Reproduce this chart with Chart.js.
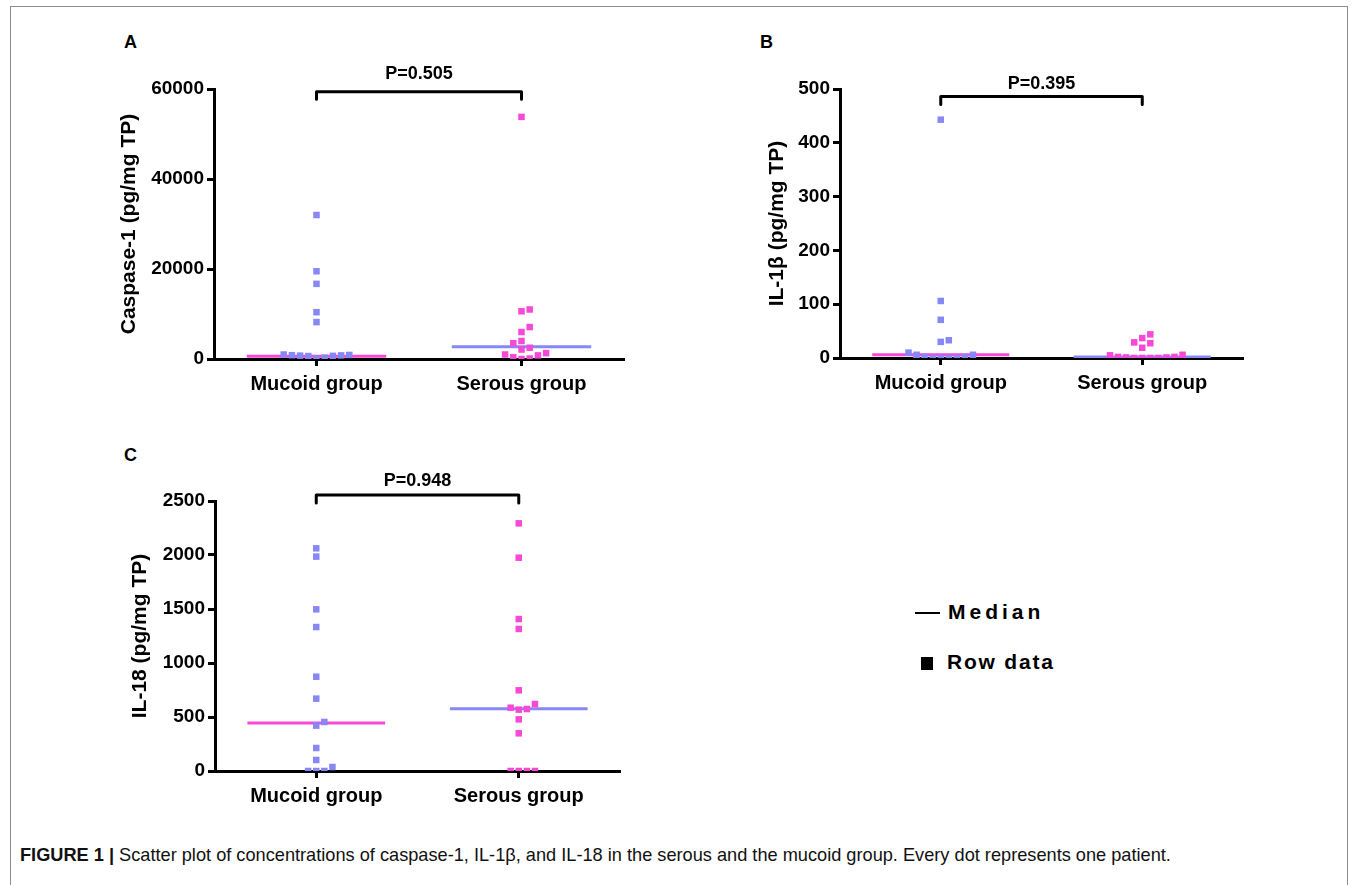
<!DOCTYPE html>
<html>
<head>
<meta charset="utf-8">
<script src="https://cdn.jsdelivr.net/npm/chart.js@4.4.0/dist/chart.umd.min.js"></script>
<style>
  body { margin: 0; width: 1357px; height: 885px; background: #fff; position: relative; overflow: hidden;
         font-family: Arial, "Liberation Sans", sans-serif; color: #000; }
  .frame { position: absolute; left: 10px; top: 6px; width: 1336px; height: 900px; border: 1px solid #8c8c8c; }
  canvas { position: absolute; }
  .tag { position: absolute; font-weight: bold; font-size: 18px; line-height: 20px; }
  .legend { position: absolute; font-weight: bold; font-size: 21px; line-height: 24px; white-space: nowrap; }
  .legend .dash { display: inline-block; width: 25px; height: 2px; background: #000; vertical-align: middle; margin-right: 8px; }
  .legend .box { display: inline-block; width: 12px; height: 13px; background: #000; vertical-align: middle; margin-right: 14px; }
  .caption { position: absolute; left: 20px; top: 844px; font-size: 18.2px; line-height: 22px; white-space: nowrap;
             font-family: Arial, "Liberation Sans", sans-serif; color: #111; }
</style>
</head>
<body>
<div class="frame"></div>
<div class="tag" style="left:124px; top:32px;">A</div>
<div class="tag" style="left:760px; top:32px;">B</div>
<div class="tag" style="left:124px; top:445px;">C</div>
<canvas id="chartA" width="540" height="345" style="left:100px; top:55px;"></canvas>
<canvas id="chartB" width="520" height="345" style="left:740px; top:55px;"></canvas>
<canvas id="chartC" width="540" height="347" style="left:100px; top:465px;"></canvas>
<div class="legend" style="left:915px; top:600px; letter-spacing:4px;"><span class="dash"></span>Median</div>
<div class="legend" style="left:921px; top:650px; letter-spacing:1.8px;"><span class="box"></span>Row data</div>
<div class="caption"><b>FIGURE 1 |</b> Scatter plot of concentrations of caspase-1, IL-1β, and IL-18 in the serous and the mucoid group. Every dot represents one patient.</div>
<script>
const groups = ["Mucoid group", "Serous group"];

// panel A: caspase-1
const caspMucoid = [32000, 19500, 16700, 10400, 8200, 1000, 900, 850, 800, 750, 700, 650, 300, 100];
const caspSerous = [53800, 11000, 10600, 7100, 6000, 4000, 3500, 2500, 2100, 1300, 1000, 800, 400, 100, 0];
const caspMedian = [600, 2700];
const caspBracket = [59400, 57700];
const caspTicks = [0, 20000, 40000, 60000];

// panel B: IL-1beta
const il1bMucoid = [443, 106, 71, 33, 30, 10, 6, 6, 2, 2, 0, 0, 0, 0];
const il1bSerous = [44, 37, 29, 27.5, 19, 6, 5, 2, 2, 1, 1, 0, 0, 0, 0];
const il1bMedian = [6, 2];
const il1bBracket = [486, 471];
const il1bTicks = [0, 100, 200, 300, 400, 500];

// panel C: IL-18
const il18Mucoid = [2062, 1985, 1497, 1333, 873, 670, 454, 420, 213, 102, 37, 0, 0, 0];
const il18Serous = [2293, 1975, 1407, 1315, 747, 620, 586, 574, 568, 478, 349, 0, 0, 0, 0];
const il18Median = [445, 577];
const il18Bracket = [2556, 2481];
const il18Ticks = [0, 500, 1000, 1500, 2000, 2500];

const BLUE = "#8787f5";
const PINK = "#f748d8";
const FONT = 'Arial, "Liberation Sans", sans-serif';

const pLabel = {
  id: "pLabel",
  afterDatasetsDraw(chart, args, opts) {
    const { ctx, scales } = chart;
    const px = (scales.x.getPixelForValue(1) + scales.x.getPixelForValue(2)) / 2;
    const py = scales.y.getPixelForValue(opts.at) - opts.gap;
    ctx.save();
    ctx.font = "bold 18px " + FONT;
    ctx.fillStyle = "#000";
    ctx.textAlign = "center";
    ctx.textBaseline = "middle";
    ctx.fillText(opts.text, px, py);
    ctx.restore();
  },
};

// spread points with close values sideways, like a dot plot
function swarm(yScale, values, center) {
  const slot = 0.04;
  const order = values.map((v, i) => i).sort((a, b) => values[a] - values[b]);
  const placed = [];
  const xs = [];
  order.forEach((i) => {
    const py = yScale.getPixelForValue(values[i]);
    for (let k = 0; ; k++) {
      const s = k === 0 ? 0 : k % 2 ? (k + 1) / 2 : -k / 2;
      if (!placed.some((p) => p.s === s && Math.abs(p.py - py) < 7)) {
        placed.push({ s, py });
        xs[i] = center + s * slot;
        break;
      }
    }
  });
  return values.map((v, i) => ({ x: xs[i], y: v }));
}

function makePanel(id, opt) {
  const half = 0.34;
  const ctx = document.getElementById(id).getContext("2d");
  const chart = new Chart(ctx, {
    type: "scatter",
    data: {
      datasets: [
        { data: opt.mucoid.map((v) => ({ x: 1, y: v })), backgroundColor: BLUE, pointStyle: "rect",
          pointRadius: 4.6, pointBorderWidth: 0, order: 0 },
        { data: opt.serous.map((v) => ({ x: 2, y: v })), backgroundColor: PINK, pointStyle: "rect",
          pointRadius: 4.6, pointBorderWidth: 0, order: 0 },
        { data: [{ x: 1 - half, y: opt.median[0] }, { x: 1 + half, y: opt.median[0] }], showLine: true,
          borderColor: PINK, borderWidth: 3, pointRadius: 0, order: 1 },
        { data: [{ x: 2 - half, y: opt.median[1] }, { x: 2 + half, y: opt.median[1] }], showLine: true,
          borderColor: BLUE, borderWidth: 3, pointRadius: 0, order: 1 },
        { data: [{ x: 1, y: opt.bracket[1] }, { x: 1, y: opt.bracket[0] }, { x: 2, y: opt.bracket[0] }, { x: 2, y: opt.bracket[1] }],
          showLine: true, borderColor: "#000", borderWidth: 3, borderJoinStyle: "round", borderCapStyle: "round",
          pointRadius: 0, clip: false, order: 2 },
      ],
    },
    options: {
      responsive: false,
      animation: false,
      devicePixelRatio: 1,
      layout: { padding: { top: opt.padTop, right: opt.padRight, left: 0, bottom: 0 } },
      scales: {
        x: {
          type: "linear",
          min: 0.5,
          max: 2.5,
          afterBuildTicks: (s) => { s.ticks = [{ value: 1 }, { value: 2 }]; },
          afterFit: (s) => { s.height = opt.xHeight; },
          ticks: { callback: (v) => groups[v - 1], color: "#000", font: { family: FONT, size: 20, weight: "bold" },
                   padding: 6, maxRotation: 0, autoSkip: false },
          grid: { drawOnChartArea: false, drawTicks: true, tickLength: 7, tickWidth: 3, tickColor: "#000" },
          border: { display: true, color: "#000", width: 3 },
        },
        y: {
          min: 0,
          max: opt.ticks[opt.ticks.length - 1],
          afterBuildTicks: (s) => { s.ticks = opt.ticks.map((v) => ({ value: v })); },
          afterFit: (s) => { s.width = opt.yWidth; },
          ticks: { callback: (v) => String(v), color: "#000", font: { family: FONT, size: 19, weight: "bold" }, padding: 3 },
          grid: { drawOnChartArea: false, drawTicks: true, tickLength: 7, tickWidth: 3, tickColor: "#000" },
          border: { display: true, color: "#000", width: 3 },
          title: { display: true, text: opt.title, color: "#000", font: { family: FONT, size: 21, weight: "bold" },
                   padding: { top: opt.titlePad, bottom: 0 } },
        },
      },
      plugins: {
        legend: { display: false },
        tooltip: { enabled: false },
        pLabel: { text: opt.p, at: opt.bracket[0], gap: opt.pGap },
      },
    },
    plugins: [pLabel],
  });
  chart.data.datasets[0].data = swarm(chart.scales.y, opt.mucoid, 1);
  chart.data.datasets[1].data = swarm(chart.scales.y, opt.serous, 2);
  chart.update("none");
  return chart;
}

makePanel("chartA", {
  mucoid: caspMucoid, serous: caspSerous, median: caspMedian, bracket: caspBracket, ticks: caspTicks,
  title: "Caspase-1 (pg/mg TP)", p: "P=0.505", pGap: 18,
  padTop: 34, padRight: 16, yWidth: 114, xHeight: 41, titlePad: 17,
});
makePanel("chartB", {
  mucoid: il1bMucoid, serous: il1bSerous, median: il1bMedian, bracket: il1bBracket, ticks: il1bTicks,
  title: "IL-1β (pg/mg TP)", p: "P=0.395", pGap: 13,
  padTop: 34, padRight: 17, yWidth: 100, xHeight: 42, titlePad: 25,
});
makePanel("chartC", {
  mucoid: il18Mucoid, serous: il18Serous, median: il18Median, bracket: il18Bracket, ticks: il18Ticks,
  title: "IL-18 (pg/mg TP)", p: "P=0.948", pGap: 14,
  padTop: 36, padRight: 20, yWidth: 115, xHeight: 41, titlePad: 28,
});
</script>
</body>
</html>
